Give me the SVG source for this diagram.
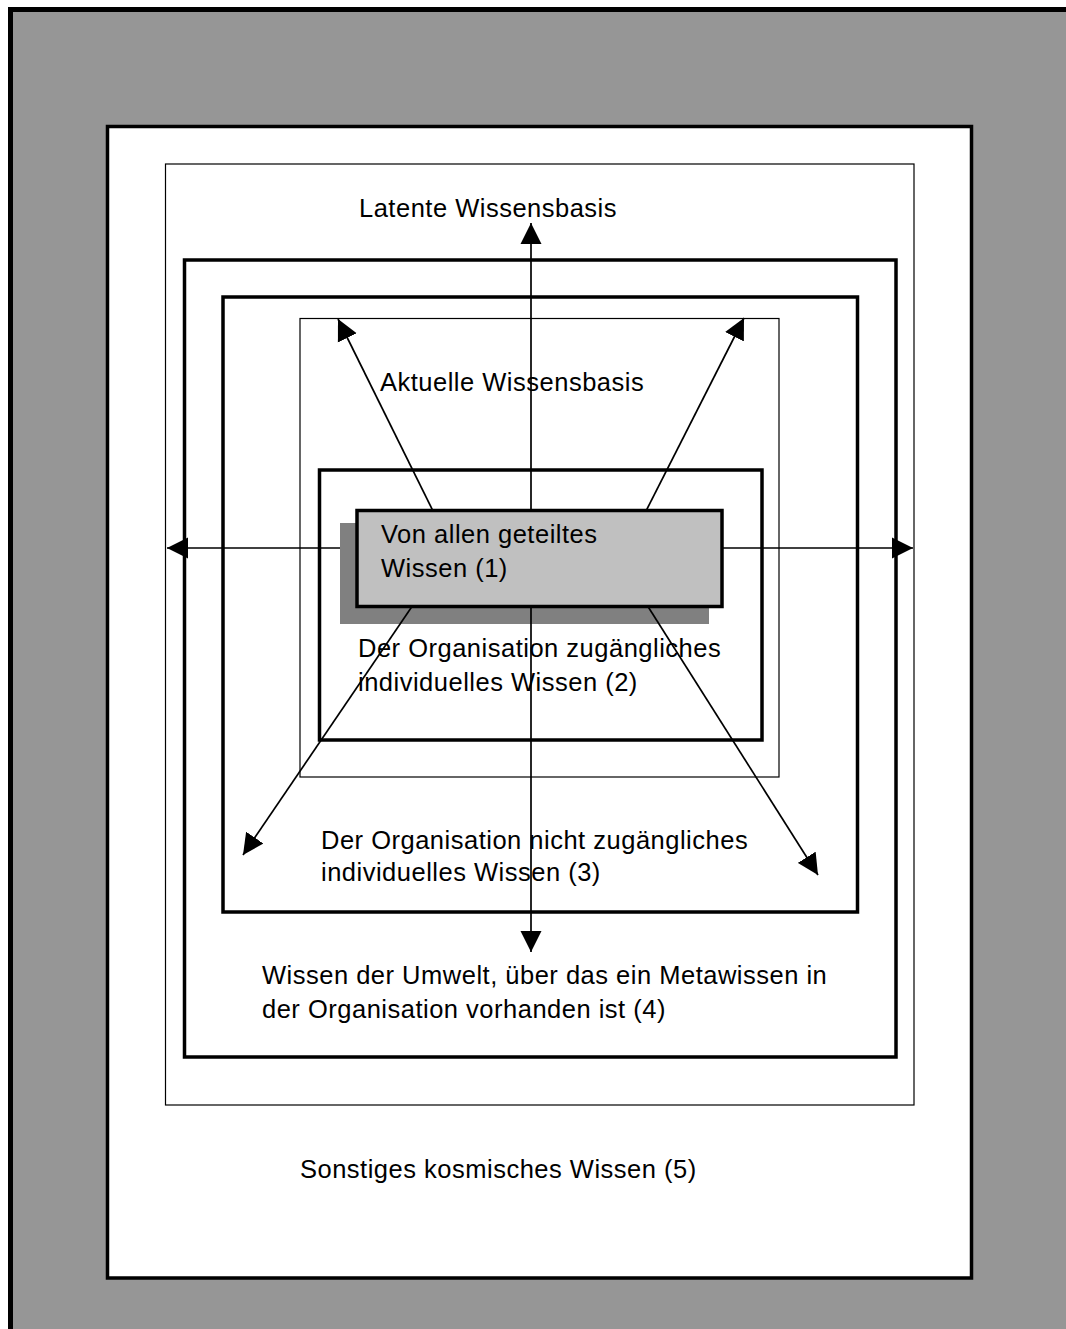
<svg xmlns="http://www.w3.org/2000/svg" width="1066" height="1329" viewBox="0 0 1066 1329">
  <style>
    .thick { fill: none; stroke: #000; stroke-width: 3.5; }
    .thin { fill: none; stroke: #000; stroke-width: 1.2; }
    .lbl { font-family: "Liberation Sans", Arial, sans-serif; font-size: 25.5px; letter-spacing: 0.5px; fill: #000; }
    .conn { stroke: #000; stroke-width: 1.7; fill: none; marker-end: url(#head); }
  </style>
  <defs>
    <marker id="head" markerUnits="userSpaceOnUse" markerWidth="22" markerHeight="22" refX="21" refY="10.5" orient="auto" viewBox="0 0 22 21">
      <path d="M0,0 L21,10.5 L0,21 Z" fill="#000"/>
    </marker>
  </defs>

  <!-- background: cosmic knowledge field -->
  <rect x="0" y="0" width="1066" height="1329" fill="#fff"/>
  <rect x="10.5" y="9.5" width="1200" height="1400" fill="#969696" stroke="#000" stroke-width="5"/>

  <g id="node-kosmisch">
    <rect x="107.5" y="126.5" width="864" height="1151.5" fill="#fff" stroke="#000" stroke-width="3.5"/>
    <text class="lbl" x="300" y="1178">Sonstiges kosmisches Wissen (5)</text>
  </g>

  <g id="node-latent">
    <rect class="thin" x="165.5" y="164" width="748.5" height="941"/>
    <text class="lbl" x="359" y="217">Latente Wissensbasis</text>
  </g>

  <g id="node-umwelt">
    <rect class="thick" x="184.5" y="260" width="711.5" height="797"/>
    <text class="lbl" x="262" y="984">Wissen der Umwelt, über das ein Metawissen in</text>
    <text class="lbl" x="262" y="1018">der Organisation vorhanden ist (4)</text>
  </g>

  <g id="node-nicht-zugaenglich">
    <rect class="thick" x="223" y="297" width="634.5" height="615"/>
    <text class="lbl" x="321" y="849">Der Organisation nicht zugängliches</text>
    <text class="lbl" x="321" y="881">individuelles Wissen (3)</text>
  </g>

  <g id="node-aktuell">
    <rect class="thin" x="300" y="318.5" width="479" height="458.5"/>
    <text class="lbl" x="380" y="391">Aktuelle Wissensbasis</text>
  </g>

  <g id="node-zugaenglich">
    <rect class="thick" x="319.5" y="470" width="442.5" height="270"/>
    <text class="lbl" x="358" y="657">Der Organisation zugängliches</text>
    <text class="lbl" x="358" y="691">individuelles Wissen (2)</text>
  </g>

  <!-- horizontal spread, partly hidden under the shared box -->
  <g id="connectors-h">
    <line class="conn" x1="530" y1="548" x2="167" y2="548"/>
    <line class="conn" x1="530" y1="548" x2="913" y2="548"/>
  </g>

  <g id="node-geteilt-shadow">
    <rect x="340" y="523" width="369" height="101" fill="#808080"/>
  </g>

  <g id="connectors">
    <line class="conn" x1="531" y1="560" x2="531" y2="223"/>
    <line class="conn" x1="531" y1="560" x2="531" y2="952"/>
    <line class="conn" x1="433" y1="511" x2="338" y2="319"/>
    <line class="conn" x1="646" y1="511" x2="744" y2="318"/>
    <line class="conn" x1="413" y1="605" x2="243" y2="855"/>
    <line class="conn" x1="647" y1="605" x2="818" y2="875"/>
  </g>

  <g id="node-geteilt">
    <rect x="357" y="510.5" width="365" height="96" fill="#c0c0c0" stroke="#000" stroke-width="3.5"/>
    <text class="lbl" x="381" y="543">Von allen geteiltes</text>
    <text class="lbl" x="381" y="577">Wissen (1)</text>
  </g>
</svg>
